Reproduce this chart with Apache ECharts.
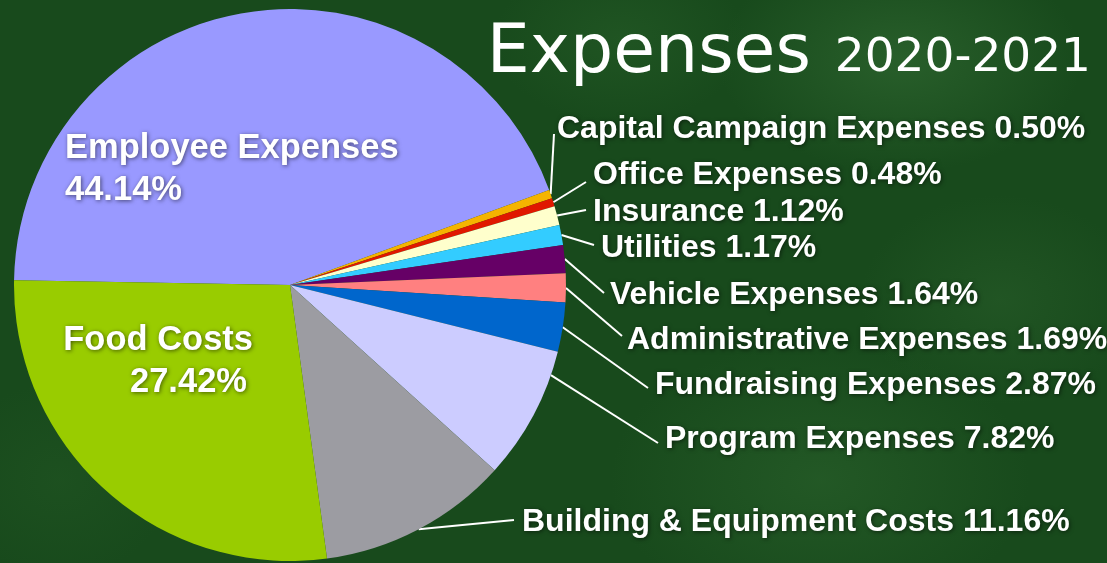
<!DOCTYPE html>
<html>
<head>
<meta charset="utf-8">
<script src="https://cdn.jsdelivr.net/npm/echarts@6/dist/echarts.min.js"></script>
<style>
html,body{margin:0;padding:0;width:1107px;height:563px;overflow:hidden;}
body{
  background:
    radial-gradient(ellipse 260px 160px at 900px 60px, rgba(60,120,60,0.45), rgba(60,120,60,0) 70%),
    radial-gradient(ellipse 300px 200px at 820px 480px, rgba(55,115,55,0.35), rgba(55,115,55,0) 70%),
    radial-gradient(ellipse 200px 150px at 1000px 300px, rgba(50,105,50,0.35), rgba(50,105,50,0) 70%),
    radial-gradient(ellipse 160px 140px at 60px 480px, rgba(40,95,40,0.3), rgba(40,95,40,0) 70%),
    radial-gradient(ellipse 180px 120px at 620px 40px, rgba(50,110,50,0.3), rgba(50,110,50,0) 70%),
    #184a1c;
}
#chart{width:1107px;height:563px;}
</style>
</head>
<body>
<div id="chart"></div>
<script>
// ---- data ----
const titleMain = 'Expenses';
const titleYear = '2020-2021';
const categories = [
  'Employee Expenses',
  'Capital Campaign Expenses',
  'Office Expenses',
  'Insurance',
  'Utilities',
  'Vehicle Expenses',
  'Administrative Expenses',
  'Fundraising Expenses',
  'Program Expenses',
  'Building & Equipment Costs',
  'Food Costs'
];
const percents = [44.14, 0.50, 0.48, 1.12, 1.17, 1.64, 1.69, 2.87, 7.82, 11.16, 27.42];

// ---- style / layout ----
const sliceColors = ['#9999FF','#F5B400','#E01800','#FFFFCC','#33CCFF','#660066','#FF8080','#0066CC','#CCCCFF','#9C9CA2','#99CC00'];
const PIE_CENTER = [290, 285];
const PIE_RADIUS = 276;
const INSIDE = [0, 10]; // labels drawn on the slice (no leader line)
const LABEL_LAYOUT = [
  {x: 65,  y: 169, align: 'left'},
  {x: 557, y: 129, align: 'left', end: [554, 134]},
  {x: 593, y: 175, align: 'left', end: [586, 182]},
  {x: 593, y: 212, align: 'left', end: [586, 210]},
  {x: 601, y: 248, align: 'left', end: [594, 245]},
  {x: 610, y: 295, align: 'left', end: [604, 293]},
  {x: 627, y: 340, align: 'left', end: [622, 336]},
  {x: 655, y: 385, align: 'left', end: [648, 388]},
  {x: 665, y: 439, align: 'left', end: [658, 443], rot: 9},
  {x: 522, y: 522, align: 'left', end: [514, 520]},
  {x: 253, y: 361, align: 'right'}
];

const fmt = v => v.toFixed(2) + '%';
const FONT = 'Liberation Sans, Arial, sans-serif';

const seriesData = categories.map((name, i) => {
  const item = {name: name, value: percents[i], itemStyle: {color: sliceColors[i]}};
  if (INSIDE.indexOf(i) >= 0) {
    item.labelLine = {show: false};
    item.label = {fontSize: 34.5, lineHeight: 42};
  }
  return item;
});

const chart = echarts.init(document.getElementById('chart'), null, {renderer: 'canvas'});
chart.setOption({
  backgroundColor: 'transparent',
  animation: false,
  title: {
    text: '{a|' + titleMain + '}{b|' + titleYear + '}',
    right: 11,
    top: 15,
    textStyle: {
      rich: {
        a: {fontFamily: 'DejaVu Sans', fontSize: 68, color: '#ffffff', fontWeight: 'normal'},
        b: {fontFamily: 'DejaVu Sans', fontSize: 47, color: '#ffffff', fontWeight: 'normal', padding: [10, 0, 0, 24]}
      }
    }
  },
  series: [{
    type: 'pie',
    center: PIE_CENTER,
    radius: PIE_RADIUS,
    startAngle: 179,
    clockwise: true,
    avoidLabelOverlap: false,
    data: seriesData,
    emphasis: {disabled: true},
    label: {
      show: true,
      position: 'outside',
      color: '#ffffff',
      fontFamily: FONT,
      fontWeight: 'bold',
      fontSize: 32,
      textShadowColor: 'rgba(0,0,0,0.55)',
      textShadowBlur: 4,
      textShadowOffsetX: 1,
      textShadowOffsetY: 1,
      formatter: function (p) {
        if (p.dataIndex === 0) return p.name + '\n' + fmt(p.value);
        if (p.dataIndex === 10) return '{n|' + p.name + '}\n{v|' + fmt(p.value) + '}';
        return p.name + ' ' + fmt(p.value);
      },
      rich: {
        n: {fontSize: 34.5, lineHeight: 42, color: '#fff', fontWeight: 'bold', fontFamily: FONT},
        v: {fontSize: 34.5, lineHeight: 42, color: '#fff', fontWeight: 'bold', fontFamily: FONT, padding: [0, 6, 0, 0]}
      }
    },
    labelLine: {
      show: true,
      lineStyle: {color: '#ffffff', width: 2}
    },
    labelLayout: function (params) {
      const L = LABEL_LAYOUT[params.dataIndex];
      const out = {x: L.x, y: L.y, align: L.align, verticalAlign: 'middle'};
      if (L.end && params.labelLinePoints && params.labelLinePoints.length) {
        let s = params.labelLinePoints[0];
        if (L.rot) {
          const a = -L.rot * Math.PI / 180;
          const dx = s[0] - PIE_CENTER[0], dy = s[1] - PIE_CENTER[1];
          s = [PIE_CENTER[0] + dx * Math.cos(a) - dy * Math.sin(a),
               PIE_CENTER[1] + dx * Math.sin(a) + dy * Math.cos(a)];
        }
        out.labelLinePoints = [s, L.end];
      }
      return out;
    }
  }]
});
</script>
</body>
</html>
